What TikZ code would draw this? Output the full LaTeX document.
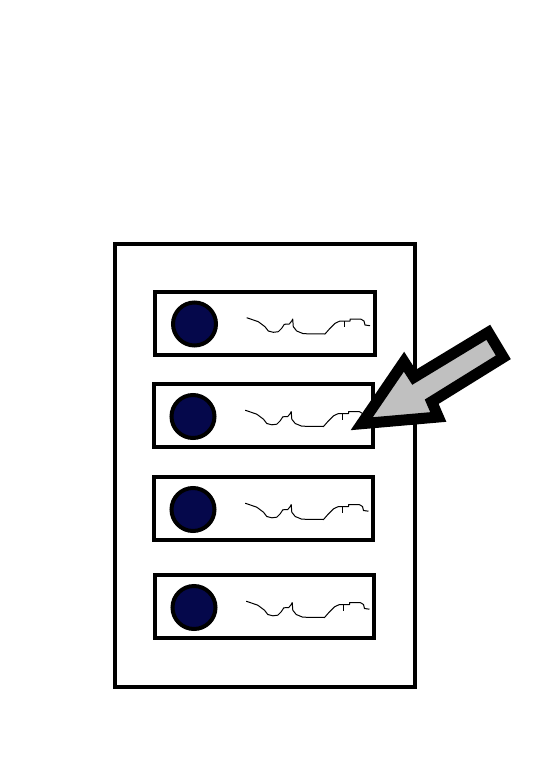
\documentclass[tikz,border=0pt]{standalone}
\definecolor{dotblue}{RGB}{5,8,75}
\definecolor{arrowgray}{RGB}{192,192,192}
\begin{document}
\begin{tikzpicture}[x=1pt, y=-1pt,
    frame/.style={draw, line width=4.3pt},
    dot/.style={draw, fill=dotblue, line width=4pt},
    wave/.style={line width=1pt, line join=round}]
    \useasboundingbox (0,0) rectangle (552,777);
    % cabinet
    \draw[frame] (114.7,243.8) rectangle (415,687);
    % the four slots
    \foreach \l/\t/\r/\b/\cx/\cy in {155.3/292/374.7/355.3/194.5/324,
        153.7/383.7/372.7/447/193/416.5, 153.7/477/372.7/540.3/193/509.5,
        154.7/574.7/373.7/638/194/607.5} {
        \draw[frame] (\l,\t) rectangle (\r,\b);
        \draw[dot] (\cx,\cy) circle (21.5);
        \begin{scope}[shift={(\cx,\cy)}]
            \draw[wave] (52.2,-6.3) -- (63.8,-2.3) -- (70.5,2.7) -- (73.8,7) -- (78.8,8.3)
                -- (83.8,7.7) -- (87.2,4.3) -- (89.8,0.3) -- (94.8,0) -- (97.2,-3) -- (98.2,-5)
                -- (98.8,2.7) -- (102.2,7) -- (108.8,9.7) -- (130.5,10) -- (135.5,4.3)
                -- (140.5,-0.7) -- (145.5,-3) -- (155.5,-3) -- (155.5,-5) -- (166.2,-5)
                -- (169.5,-3) -- (170.5,1) -- (175.5,1.7);
            \draw[wave] (149.8,-3) -- (149.8,3.3);
        \end{scope}
    }
    % pointer
    \draw[line width=11pt, fill=arrowgray, line join=miter]
        (361.7,423.7) -- (404,361.7) -- (414,377.3) -- (488.3,332.3) -- (503.3,357.3)
        -- (431.7,401.7) -- (438.3,417) -- cycle;
\end{tikzpicture}
\end{document}
